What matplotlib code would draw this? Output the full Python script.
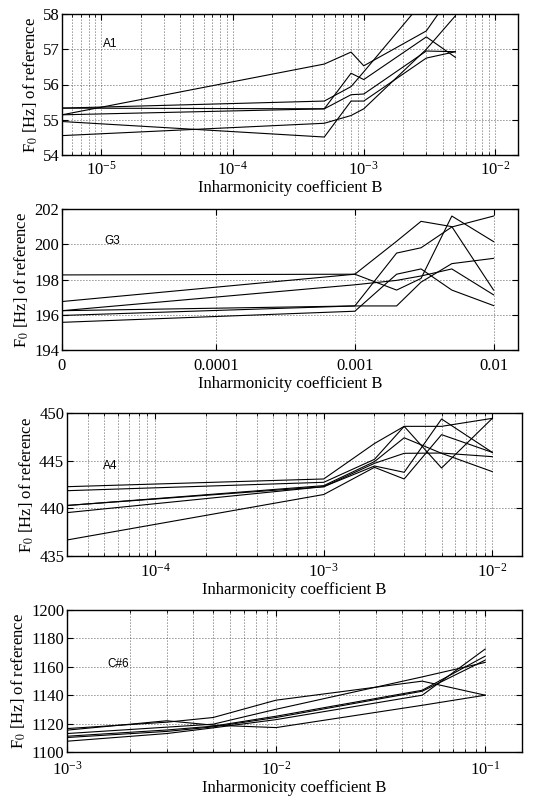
import matplotlib
matplotlib.use("Agg")
import matplotlib.pyplot as plt
from matplotlib.ticker import (LogLocator, FixedLocator, FixedFormatter,
                               NullLocator, NullFormatter)

# ---- data ------------------------------------------------------------------
# A1
a1_B = [5e-6, 5e-4, 8e-4, 1e-3, 3e-3, 5e-3]
a1_f0 = [
    [55.14, 56.58, 56.92, 56.53, 57.52, 58.70],
    [55.33, 55.31, 56.32, 56.14, 57.35, 56.77],
    [55.33, 55.53, 55.94, 56.36, 58.47, 59.50],
    [55.14, 55.31, 55.71, 55.73, 56.95, 56.93],
    [54.95, 54.51, 55.53, 55.53, 56.75, 56.93],
    [54.55, 54.90, 55.12, 55.31, 57.00, 57.95],
]

# G3 (B = 0 shown at the left edge)
g3_B = [0, 1e-3, 2e-3, 3e-3, 5e-3, 1e-2]
g3_f0 = [
    [198.26, 198.30, 200.17, 201.30, 201.00, 197.40],
    [196.75, 198.30, 197.40, 198.06, 201.60, 200.15],
    [196.23, 197.70, 197.95, 198.20, 198.60, 197.13],
    [196.23, 196.50, 199.50, 199.80, 200.98, 201.60],
    [195.57, 196.20, 198.30, 198.60, 197.40, 196.52],
    [195.96, 196.50, 196.50, 197.85, 198.90, 199.20],
]
g3_ticks = [0, 1e-4, 1e-3, 1e-2]
g3_ticklabels = ["0", "0.0001", "0.001", "0.01"]

# A4
a4_B = [3e-5, 1e-3, 2e-3, 3e-3, 5e-3, 1e-2]
a4_f0 = [
    [442.27, 443.08, 446.80, 448.60, 448.60, 449.44],
    [441.85, 442.73, 445.14, 448.60, 444.23, 449.44],
    [440.30, 442.38, 444.90, 447.40, 445.77, 443.85],
    [440.30, 442.27, 444.72, 445.77, 445.80, 445.42],
    [439.55, 442.27, 444.44, 443.78, 449.37, 445.87],
    [436.68, 441.45, 444.30, 443.08, 447.73, 445.87],
]

# C#6
c6_B = [1e-3, 3e-3, 5e-3, 1e-2, 5e-2, 1e-1]
c6_f0 = [
    [1116.5, 1121.0, 1124.3, 1136.5, 1149.9, 1140.0],
    [1113.0, 1117.5, 1119.6, 1130.1, 1152.9, 1163.1],
    [1111.1, 1115.5, 1118.2, 1125.2, 1143.5, 1167.5],
    [1110.2, 1114.5, 1117.7, 1124.3, 1142.8, 1164.7],
    [1107.6, 1113.0, 1117.0, 1122.8, 1140.0, 1172.5],
    [1115.4, 1122.0, 1118.9, 1117.2, 1132.9, 1140.0],
]

notes = ["A1", "G3", "A4", "C#6"]
xlabel = "Inharmonicity coefficient B"
ylabel = "F$_0$ [Hz] of reference"

# ---- style -------------------------------------------------------------------
plt.rcParams["font.family"] = ["Liberation Serif", "DejaVu Serif"]
plt.rcParams["mathtext.fontset"] = "stix"
plt.rcParams["font.size"] = 12
plt.rcParams["axes.linewidth"] = 1.0

W, H = 555, 801
fig = plt.figure(figsize=(W / 100, H / 100), dpi=100)

dots = (0, (1, 2.6))


def make_axes(left, top, right, bottom):
    return fig.add_axes([left / W, 1 - bottom / H, (right - left) / W, (bottom - top) / H])


def finish(ax, note, note_xy, yticks, minor_grid=True, xpad=5):
    ax.set_ylim(yticks[0], yticks[-1])
    ax.yaxis.set_major_locator(FixedLocator(yticks))
    ax.grid(True, which="major", linestyle=dots, color="0.15", linewidth=0.6)
    if minor_grid:
        ax.grid(True, which="minor", axis="x", linestyle=dots, color="0.15", linewidth=0.6)
    ax.tick_params(which="both", direction="in", top=True, right=True)
    ax.tick_params(which="major", length=4, width=0.8, labelsize=12)
    ax.tick_params(which="minor", length=2.5, width=0.6)
    ax.tick_params(axis="x", which="major", pad=xpad)
    ax.tick_params(axis="y", which="major", pad=2)
    ax.set_xlabel(xlabel, fontsize=12, labelpad=1)
    ax.set_ylabel(ylabel, fontsize=12, labelpad=2)
    ax.text(note_xy[0], note_xy[1], note, transform=ax.transAxes,
            fontsize=8.5, family="Liberation Sans", va="center", ha="left")


def draw(ax, B, rows):
    for row in rows:
        ax.plot(B, row, color="black", linewidth=0.8)


def log_x(ax, lo, hi):
    ax.set_xscale("log")
    ax.set_xlim(lo, hi)
    ax.xaxis.set_major_locator(LogLocator(base=10, numticks=10))
    ax.xaxis.set_minor_locator(LogLocator(base=10, subs=range(2, 10), numticks=20))
    ax.xaxis.set_minor_formatter(NullFormatter())


# A1
ax1 = make_axes(62, 14, 518, 155)
draw(ax1, a1_B, a1_f0)
log_x(ax1, 5e-6, 1.5e-2)
finish(ax1, notes[0], (0.09, 0.79), [54, 55, 56, 57, 58], xpad=4)

# G3
ax2 = make_axes(62, 209, 518, 350)
draw(ax2, g3_B, g3_f0)
ax2.set_xscale("symlog", linthresh=1e-4, linscale=1.0)
ax2.set_xlim(0, 1.5e-2)
ax2.xaxis.set_major_locator(FixedLocator(g3_ticks))
ax2.xaxis.set_major_formatter(FixedFormatter(g3_ticklabels))
ax2.xaxis.set_minor_locator(NullLocator())
finish(ax2, notes[1], (0.094, 0.77), [194, 196, 198, 200, 202], minor_grid=False, xpad=6)

# A4
ax3 = make_axes(67, 413, 522, 556)
draw(ax3, a4_B, a4_f0)
log_x(ax3, 3e-5, 1.5e-2)
finish(ax3, notes[2], (0.08, 0.63), [435, 440, 445, 450], xpad=5)

# C#6
ax4 = make_axes(67, 610, 522, 752)
draw(ax4, c6_B, c6_f0)
log_x(ax4, 1e-3, 1.5e-1)
finish(ax4, notes[3], (0.088, 0.62), [1100, 1120, 1140, 1160, 1180, 1200], xpad=6)

fig.savefig("out.png", dpi=100)
